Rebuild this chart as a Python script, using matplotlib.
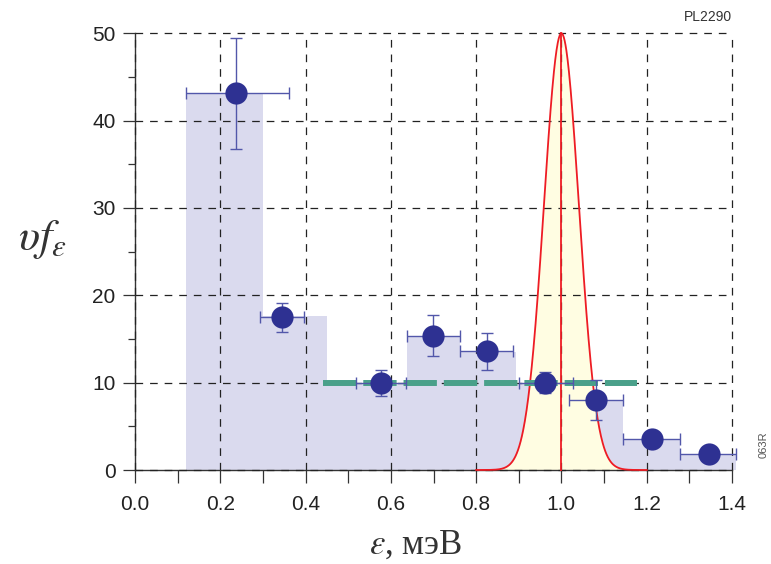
import numpy as np
import matplotlib
matplotlib.use("Agg")
import matplotlib.pyplot as plt
from matplotlib.ticker import MultipleLocator

# ---- data ----
bin_edges = [0.12, 0.30, 0.45, 0.637, 0.761, 0.894, 1.018, 1.145, 1.278, 1.41]
bin_heights = [43.2, 17.6, 10.0, 15.3, 13.5, 10.0, 8.0, 3.5, 1.8]

pt_x = [0.238, 0.344, 0.576, 0.698, 0.825, 0.962, 1.081, 1.212, 1.345]
pt_y = [43.2, 17.5, 10.0, 15.3, 13.6, 10.0, 8.0, 3.6, 1.8]
x_lo = [0.12, 0.292, 0.518, 0.637, 0.761, 0.900, 1.018, 1.145, 1.278]
x_hi = [0.36, 0.397, 0.636, 0.761, 0.887, 1.026, 1.145, 1.278, 1.41]
y_lo = [36.8, 15.8, 8.5, 13.0, 11.5, 8.8, 5.7, 3.0, 1.3]
y_hi = [49.5, 19.1, 11.5, 17.7, 15.7, 11.2, 10.3, 4.2, 2.3]

gauss_center = 1.0
gauss_height = 50.0
gauss_sigma = 0.041
gauss_range = [0.8, 1.2]

level_y = 10.0
level_range = [0.442, 1.177]

xticks = [0.0, 0.2, 0.4, 0.6, 0.8, 1.0, 1.2, 1.4]
xtick_labels = ["0.0", "0.2", "0.4", "0.6", "0.8", "1.0", "1.2", "1.4"]
yticks = [0, 10, 20, 30, 40, 50]
ytick_labels = ["0", "10", "20", "30", "40", "50"]

# ---- figure ----
plt.rcParams['font.family'] = ['Liberation Sans', 'DejaVu Sans']
plt.rcParams['mathtext.fontset'] = 'stix'
plt.rcParams['lines.scale_dashes'] = False

W, H = 771, 564
fig = plt.figure(figsize=(W / 100, H / 100), dpi=100)
ax = fig.add_axes([135 / W, 1 - 470 / H, (732 - 135) / W, (470 - 33.3) / H])

# histogram bars
edges = np.array(bin_edges)
ax.bar(edges[:-1], bin_heights, width=np.diff(edges), align='edge',
       color='#dadaee', edgecolor='none', zorder=1, clip_on=False)

# gaussian
gx = np.linspace(gauss_range[0], gauss_range[1], 400)
gy = gauss_height * np.exp(-(gx - gauss_center) ** 2 / (2 * gauss_sigma ** 2))
ax.fill_between(gx, 0, gy, color='#fffde2', zorder=1.5, linewidth=0)
ax.plot(gx, gy, color='#ee1c24', lw=1.3, zorder=3, clip_on=False)
ax.plot([gauss_center, gauss_center], [0, gauss_height], color='#ee1c24', lw=1.3, zorder=3,
        clip_on=False)

# grid
ax.set_axisbelow(False)
ax.grid(True, which='major', color='#222222', lw=0.9, linestyle=(0, (5.5, 5)), zorder=2.5)

# level line
ln, = ax.plot(level_range, [level_y, level_y], color='#4aa08a', lw=4.3,
              solid_capstyle='butt', dash_capstyle='butt', zorder=4)
ln.set_dashes([24.0, 5.0])

# points with error bars
px = np.array(pt_x); py = np.array(pt_y)
xerr = np.vstack([px - np.array(x_lo), np.array(x_hi) - px])
yerr = np.vstack([py - np.array(y_lo), np.array(y_hi) - py])
eb = ax.errorbar(px, py, xerr=xerr, yerr=yerr, fmt='none', ecolor='#5257aa',
                 elinewidth=1.0, capsize=4, capthick=1.0, zorder=5)
for art in eb.get_children():
    art.set_clip_on(False)
ax.plot(px, py, 'o', color='#2e3192', markersize=16, markeredgewidth=0, zorder=6, clip_on=False)

# axes
ax.set_xlim(0, 1.4)
ax.set_ylim(0, 50)
ax.set_xticks(xticks)
ax.set_xticklabels(xtick_labels)
ax.set_yticks(yticks)
ax.set_yticklabels(ytick_labels)
ax.xaxis.set_minor_locator(MultipleLocator(0.1))
ax.yaxis.set_minor_locator(MultipleLocator(5))
ax.tick_params(axis='x', which='both', direction='out', length=9, width=0.9,
               color='#333333', labelsize=15, labelcolor='#222222', pad=9)
ax.tick_params(axis='y', which='major', direction='out', length=9, width=0.9,
               color='#333333', labelsize=15, labelcolor='#222222', pad=5)
ax.tick_params(axis='y', which='minor', direction='out', length=5, width=0.9, color='#333333')
for s in ['top', 'right']:
    ax.spines[s].set_visible(False)
for s in ['left', 'bottom']:
    ax.spines[s].set_color('#333333')
    ax.spines[s].set_linewidth(1.0)

fig.canvas.draw()
for gl in ax.xaxis.get_gridlines() + ax.yaxis.get_gridlines():
    gl.set_clip_on(False)

# labels
fig.text(42 / W, 1 - 240 / H, r'$\upsilon f_{\varepsilon}$', fontsize=32,
         ha='center', va='center', color='#333333')
fig.text(416 / W, 1 - 545 / H, r'$\varepsilon$, мэВ', fontsize=25,
         ha='center', va='center', color='#333333', family=['Liberation Serif', 'DejaVu Serif'])
fig.text(732 / W, 1 - 17 / H, 'PL2290', fontsize=10, ha='right', va='center', color='#333333')
fig.text(764 / W, 1 - 445 / H, '063R', fontsize=8, ha='center', va='center',
         rotation=90, color='#555555')

fig.savefig('out.png', dpi=100)
